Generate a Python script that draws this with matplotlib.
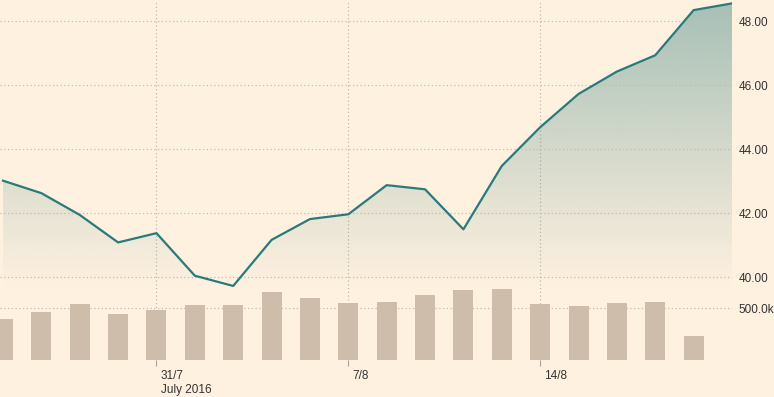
import matplotlib
matplotlib.use("Agg")
import matplotlib.pyplot as plt
import matplotlib.transforms as mtransforms
from matplotlib.patches import Polygon
import numpy as np

BG = "#FFF1E0"
LINE = "#2a7a7b"
BAR = "#cdbdaa"
GRID = "#c4bbb0"
TEXT = "#333333"

# daily close prices (trading days)
prices = [43.02, 42.63, 41.95, 41.09, 41.38, 40.05, 39.73, 41.17, 41.82, 41.97,
          42.88, 42.75, 41.50, 43.48, 44.69, 45.73, 46.43, 46.94, 48.35, 48.56]
# daily volume
volumes = [394e3, 462e3, 538e3, 442e3, 481e3, 529e3, 529e3, 654e3, 596e3, 548e3,
           558e3, 625e3, 673e3, 683e3, 538e3, 519e3, 548e3, 558e3, 231e3]
tick_idx = [4, 9, 14]
tick_labels = ["31/7", "7/8", "14/8"]
price_ticks = [40, 42, 44, 46, 48]
vol_ticks = [500e3]

plt.rcParams['font.family'] = ['Liberation Sans', 'DejaVu Sans']

fig = plt.figure(figsize=(7.74, 3.97), dpi=100)
fig.patch.set_facecolor(BG)
ax = fig.add_axes([0, 37 / 397, 732 / 774, 360 / 397])
ax.set_facecolor(BG)
axp = ax.twinx()

x = np.arange(len(prices))
xv = np.arange(len(volumes))
grid_style = dict(color=GRID, linestyle=(0, (1, 2)), linewidth=0.9)

# volume bars
ax.bar(xv, volumes, width=0.52, color=BAR, zorder=2)
for v in vol_ticks:
    ax.axhline(v, zorder=1, **grid_style)
ax.set_ylim(0, 3.48e6)
ax.set_xlim(-0.078, 19)
ax.set_yticks(vol_ticks)
ax.set_yticklabels(["500.0k"])
ax.set_xticks(tick_idx)
ax.set_xticklabels(tick_labels, ha="left")
ax.yaxis.tick_right()
ax.xaxis.grid(True, **grid_style)
ax.set_axisbelow(True)
ax.tick_params(axis="y", length=0, pad=5, labelsize=8.5, labelcolor=TEXT)
ax.tick_params(axis="x", length=4, width=0.8, color="#aaa195", pad=3,
               labelsize=8.5, labelcolor=TEXT)
offset = mtransforms.ScaledTranslation(3 / 72, 0, fig.dpi_scale_trans)
for lbl in ax.get_xticklabels():
    lbl.set_transform(lbl.get_transform() + offset)
ax.annotate("July 2016", xy=(tick_idx[0], 0), xycoords=("data", "axes fraction"),
            xytext=(3, -17), textcoords="offset points", ha="left", va="top",
            fontsize=8.5, color=TEXT)
for s in ax.spines.values():
    s.set_visible(False)

# price line with gradient fill
axp.set_ylim(37.416, 48.666)
axp.set_xlim(-0.078, 19)
fill_bottom = 39.6
grad = np.linspace(0.42, 0.0, 256).reshape(-1, 1)
rgba = np.zeros((256, 1, 4))
rgba[..., :3] = matplotlib.colors.to_rgb(LINE)
rgba[..., 3] = grad
im = axp.imshow(rgba, extent=[x[0], x[-1], fill_bottom, 48.666], aspect="auto",
                origin="upper", zorder=0, interpolation="bilinear")
verts = list(zip(x, prices)) + [(x[-1], fill_bottom), (x[0], fill_bottom)]
poly = Polygon(verts, closed=True, facecolor="none", edgecolor="none",
               transform=axp.transData)
axp.add_patch(poly)
im.set_clip_path(poly)
axp.plot(x, prices, color=LINE, linewidth=1.6, zorder=3)
axp.set_ylim(37.416, 48.666)
axp.set_xlim(-0.078, 19)
axp.set_yticks(price_ticks)
axp.set_yticklabels([f"{v:.2f}" for v in price_ticks])
axp.yaxis.grid(True, **grid_style)
axp.tick_params(axis="y", length=0, pad=5, labelsize=8.5, labelcolor=TEXT)
for s in axp.spines.values():
    s.set_visible(False)

fig.savefig("out.png", dpi=100, facecolor=BG)
